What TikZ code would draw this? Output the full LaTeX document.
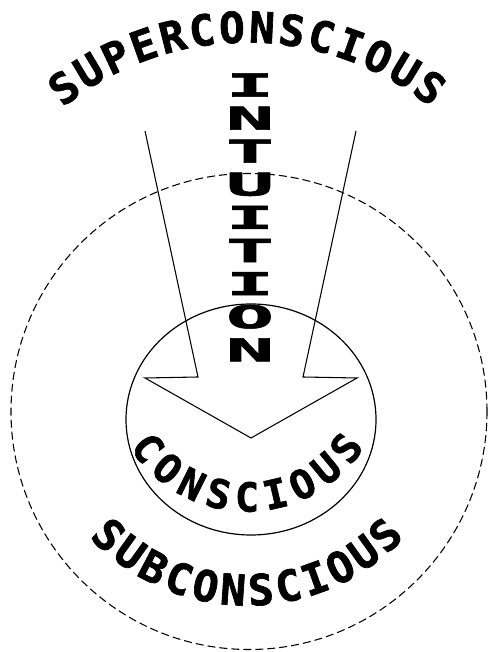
\documentclass[tikz,border=0pt]{standalone}
\usepackage{fontspec}
\newfontfamily\letrafont{DejaVu Sans Mono Bold}[FakeBold=1.6]
\usetikzlibrary{calc}

\begin{document}
\begin{tikzpicture}[
    x=0.75pt, y=0.75pt,
    every node/.style={inner sep=0pt, outer sep=0pt},
    letra arco/.style={font=\letrafont\fontsize{32}{32}\selectfont},          % letras curvadas
    letra interior/.style={font=\letrafont\fontsize{30}{30}\selectfont},      % letras dentro del circulo
    letra vertical/.style={font=\letrafont\fontsize{23.7}{23.7}\selectfont},  % letras de la flecha
    circulo exterior/.style={draw=black, line width=0.8pt, dash pattern=on 6pt off 3pt},
    circulo interior/.style={draw=black, line width=0.9pt},
    contorno flecha/.style={draw=black, line width=0.8pt, line join=miter}
]
\useasboundingbox (0,0) rectangle (489,652);

% ---- Centros de los arcos de texto ----
\coordinate (centro sup) at (247,317);
\coordinate (centro con) at (247,279.5);
\coordinate (centro sub) at (247,262.6);

% ---- Circulo exterior (discontinuo) ----
\draw[circulo exterior] (249,240.5) circle [radius=238];

% ---- Circulo interior ----
\draw[circulo interior] (251,232.5) ellipse [x radius=125, y radius=115.5];

% ---- Flecha abierta hacia abajo ----
\draw[contorno flecha] (145,521) -- (198,275) -- (145,274) -- (251,214)
    -- (357,274) -- (303,275) -- (356,521);

% ---- SUPERCONSCIOUS (arco superior) ----
\foreach \ch [count=\i from 0] in {S,U,P,E,R,C,O,N,S,C,I,O,U,S} {
    \pgfmathsetmacro\ang{126.5-\i*73/13}
    \node[letra arco, rotate=\ang-90] (super-\i) at ($(centro sup)+(\ang:308)$) {\ch};
}

% ---- INTUITION (vertical, dentro de la flecha) ----
\foreach \ch [count=\i from 0] in {I,N,T,U,I,T,I,O,N} {
    \node[letra vertical] (intu-\i) at (250,567-\i*33.1) {\scalebox{2.5}[1]{\ch}};
}

% ---- CONSCIOUS (dentro del circulo) ----
\foreach \ch [count=\i from 0] in {C,O,N,S,C,I,O,U,S} {
    \pgfmathsetmacro\ang{217.3+\i*105.4/8}
    \node[letra interior, rotate=\ang+90] (cons-\i) at ($(centro con)+(\ang:124.5)$) {\ch};
}

% ---- SUBCONSCIOUS (arco inferior) ----
\foreach \ch [count=\i from 0] in {S,U,B,C,O,N,S,C,I,O,U,S} {
    \pgfmathsetmacro\ang{226.5+\i*87/11}
    \node[letra arco, rotate=\ang+90] (subc-\i) at ($(centro sub)+(\ang:200.6)$) {\ch};
}

\end{tikzpicture}
\end{document}
